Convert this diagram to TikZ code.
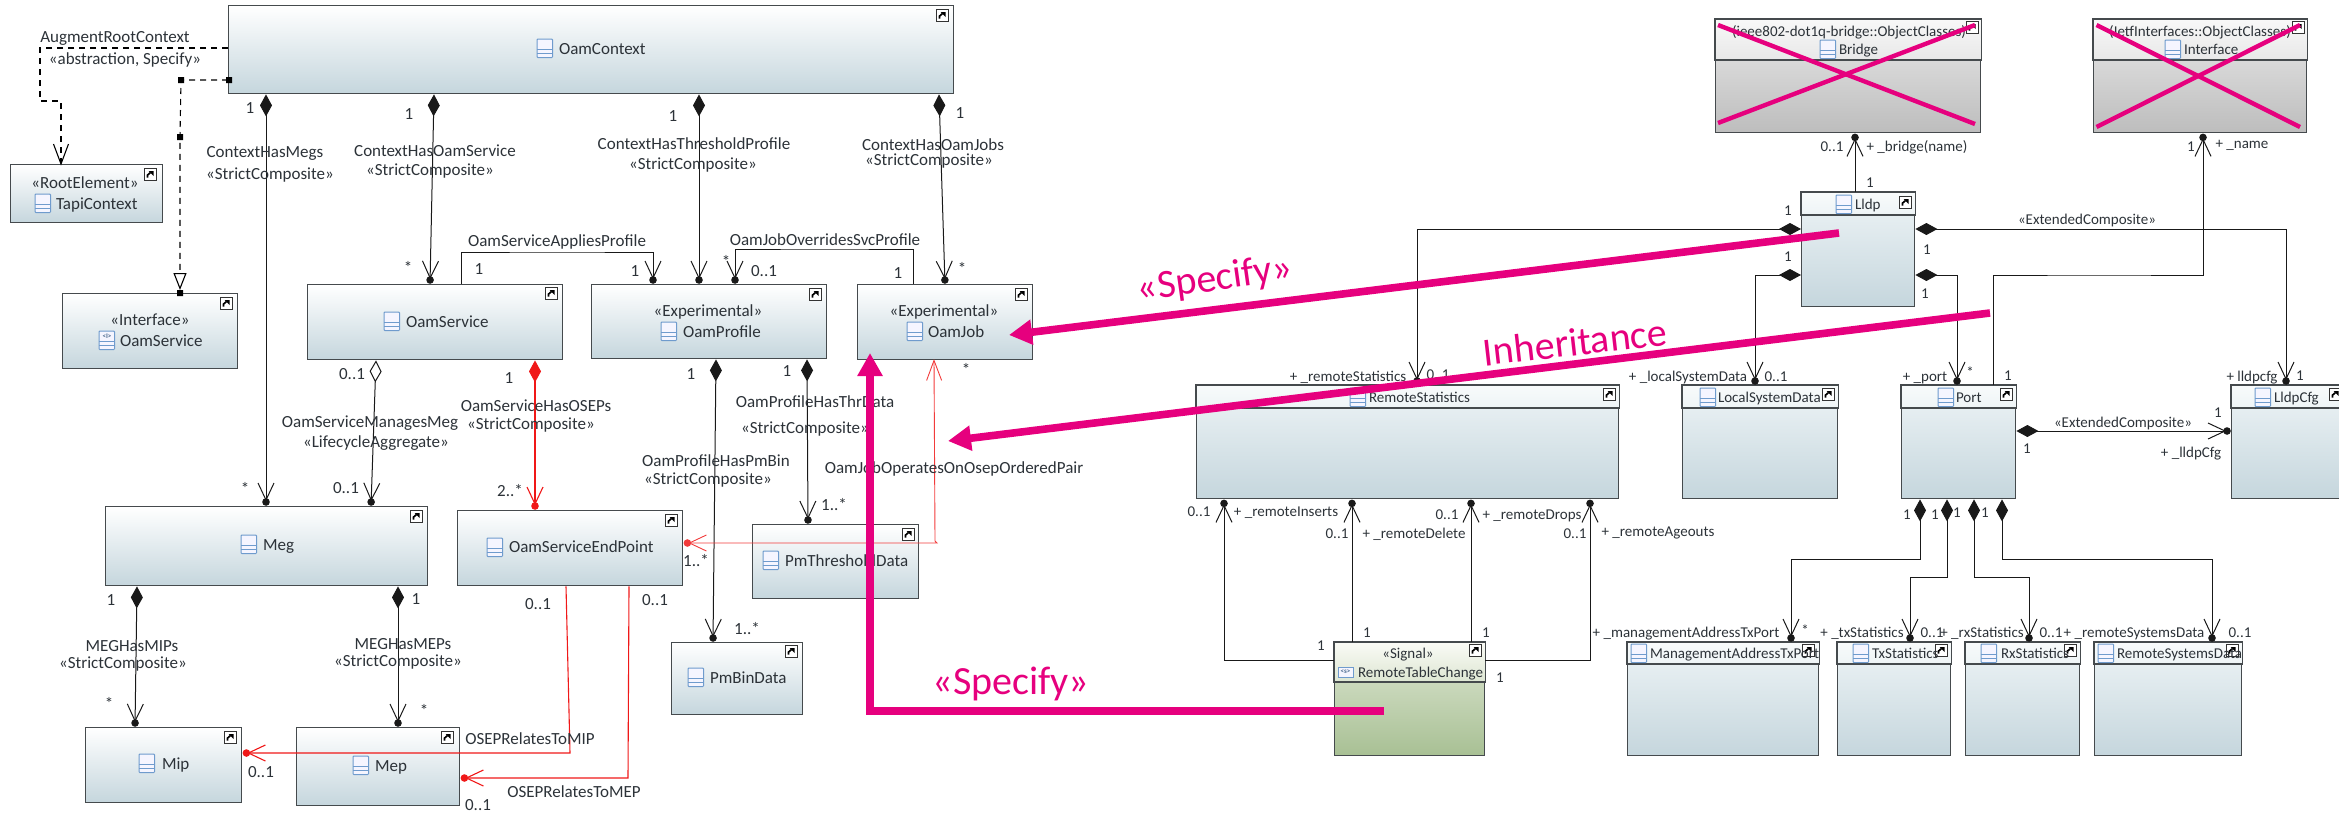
\documentclass[tikz,border=0pt]{standalone}
\usepackage{fontspec}
\setmainfont{Carlito}
\usetikzlibrary{arrows.meta}
\definecolor{edge}{HTML}{454A4D}
\definecolor{ink}{HTML}{2C3238}
\definecolor{pinkm}{HTML}{E6007E}
\definecolor{redl}{HTML}{F01818}
\definecolor{iconb}{HTML}{6F9BCD}
\definecolor{bluebot}{HTML}{C5D6DD}
\pgfdeclarearrow{
  name=umlV,
  setup code={\pgfarrowssettipend{0pt}\pgfarrowssetlineend{-4pt}\pgfarrowssetbackend{-23pt}\pgfarrowssetvisualbackend{-4pt}\pgfarrowshullpoint{0pt}{0pt}},
  drawing code={
    \pgfsetdash{}{0pt}
    \pgfpathcircle{\pgfpoint{-4pt}{0pt}}{3.8pt}\pgfusepathqfill
    \pgfpathmoveto{\pgfpoint{-23pt}{8pt}}\pgfpathlineto{\pgfpoint{-6pt}{0pt}}\pgfpathlineto{\pgfpoint{-23pt}{-8pt}}\pgfusepathqstroke
  }
}
\pgfdeclarearrow{
  name=umlO,
  setup code={\pgfarrowssettipend{0pt}\pgfarrowssetlineend{-1pt}\pgfarrowssetbackend{-20pt}\pgfarrowssetvisualbackend{-1pt}\pgfarrowshullpoint{0pt}{0pt}},
  drawing code={
    \pgfsetdash{}{0pt}
    \pgfpathmoveto{\pgfpoint{-20pt}{7.5pt}}\pgfpathlineto{\pgfpoint{0pt}{0pt}}\pgfpathlineto{\pgfpoint{-20pt}{-7.5pt}}\pgfusepathqstroke
  }
}
\newcommand\lblfont{\fontsize{17}{20}\selectfont}
\tikzset{
  boxbase/.style={rectangle,draw=edge,line width=1.4pt,inner sep=0pt,anchor=north west},
  assoc/.style={color=black!90,line width=1pt},
  redc/.style={color=redl,line width=1.1pt},
  thinred/.style={color=redl!85,line width=0.9pt},
  dashc/.style={color=black,line width=1.1pt,dash pattern=on 6pt off 5pt},
  comp/.style={assoc,{Diamond[length=22pt,width=12pt]}-umlV},
  compn/.style={comp},
  ref/.style={assoc,-umlV},
  pinkline/.style={draw=pinkm,line width=7.6pt,-{Triangle[length=23pt,width=24pt,color=pinkm]}},
  cross/.style={draw=pinkm,line width=4.4pt},
  txt/.style={text=ink,font=\lblfont,inner sep=0pt,outer sep=0pt},
  bigt/.style={text=pinkm,font=\fontsize{40}{44}\selectfont,inner sep=0pt,outer sep=0pt},
  icn/.style={draw=iconb,fill=blue!4,line width=1pt},
  tinyic/.style={text=iconb!70!black,font=\fontsize{7}{8}\selectfont\bfseries,inner sep=0pt}
}
\newcount\lblcnt
\newcommand\lbl[3]{\global\advance\lblcnt by 1 \node[txt,anchor=base] (t\the\lblcnt) at (#1,#2+5.5) {#3};}
\newcommand\nm[3]{\global\advance\lblcnt by 1 \node[txt,anchor=base west] (t\the\lblcnt) at (#1,#2+5.5) {#3};}
\newcommand\cico[2]{\draw[icn,rounded corners=0.8pt] (#1,#2) rectangle ++(15.5,18.5);
  \draw[iconb,line width=1pt] (#1,#2+10) -- ++(15.5,0) (#1,#2+14.2) -- ++(15.5,0);}
\newcommand\scut[2]{\draw[fill=white,draw=black!80,line width=1pt] (#1,#2) rectangle ++(12.5,12.5);
  \draw[black,line width=1.7pt] (#1+3.4,#2+9.6) -- ++(0,-2.4) -- ++(3,-2.6);
  \fill[black] (#1+4.6,#2+3) -- ++(5,0) -- ++(0,5) -- cycle;}
\newcommand\onebox[5]{\node[boxbase,top color=white,bottom color=bluebot,minimum width={(#4-#2)*1pt},minimum height={(#5-#3)*1pt}] (#1) at (#2,#3) {};}
\newcommand\twobox[9]{\node[boxbase,top color=#8,bottom color=#9,minimum width={(#4-#2)*1pt},minimum height={(#6-#3)*1pt}] (#1) at (#2,#3) {};
  \shade[top color=#7,bottom color=#8,draw=edge,line width=1.4pt] (#1.north west) rectangle (#1.east |- 0,#5);}
\begin{document}
\begin{tikzpicture}[x=1pt,y=-1pt]
\useasboundingbox (0,0) rectangle (2339,812);
\definecolor{bh}{HTML}{F8FBFB}\definecolor{bt}{HTML}{EEF4F6}
\definecolor{gh}{HTML}{F8F8F8}\definecolor{gt}{HTML}{E8E8E8}\definecolor{gb}{HTML}{BDBDBD}
\definecolor{lh}{HTML}{FAFBF6}\definecolor{lt}{HTML}{DDE6D2}\definecolor{lb}{HTML}{A8C094}
% ---- single boxes
\onebox{OamContext}{228}{5}{953}{93}
\onebox{TapiContext}{10}{164}{162}{222}
\onebox{IfOamService}{62}{293}{237}{368}
\onebox{OamService}{307}{284}{562}{359}
\onebox{OamProfile}{591}{284}{826}{358}
\onebox{OamJob}{857}{284}{1032}{359}
\onebox{Meg}{105}{506}{427}{585}
\onebox{OamServiceEndPoint}{457}{510}{682}{585}
\onebox{PmThresholdData}{752}{524}{918}{598}
\onebox{PmBinData}{671}{642}{802}{714}
\onebox{Mip}{85}{727}{241}{802}
\onebox{Mep}{296}{727}{459}{805}
% ---- compartment boxes
\twobox{Bridge}{1715}{19}{1980}{60}{132}{gh}{gt}{gb}
\twobox{Interface}{2093}{19}{2306}{60}{132}{gh}{gt}{gb}
\twobox{Lldp}{1801}{192}{1914}{215}{306}{bh}{bt}{bluebot}
\twobox{RemoteStatistics}{1196}{385}{1618}{408}{498}{bh}{bt}{bluebot}
\twobox{LocalSystemData}{1682}{385}{1837}{408}{498}{bh}{bt}{bluebot}
\twobox{Port}{1901}{385}{2015}{408}{498}{bh}{bt}{bluebot}
\twobox{LldpCfg}{2231}{385}{2370}{408}{498}{bh}{bt}{bluebot}
\twobox{RemoteTableChange}{1334}{642}{1484}{682}{755}{lh}{lt}{lb}
\twobox{ManagementAddressTxPort}{1627}{642}{1818}{664}{755}{bh}{bt}{bluebot}
\twobox{TxStatistics}{1837}{642}{1950}{664}{755}{bh}{bt}{bluebot}
\twobox{RxStatistics}{1965}{642}{2079}{664}{755}{bh}{bt}{bluebot}
\twobox{RemoteSystemsData}{2094}{642}{2241}{664}{755}{bh}{bt}{bluebot}
% ---- connectors left part
\draw[dashc,-umlO] (OamContext.west |- 0,48) -- (40,48) -- (40,101) -- (61,101) -- (TapiContext.north -| 61,0);
\draw[dashc,-{Triangle[open,length=17pt,width=13pt,color=black,fill=white]}] (OamContext.west |- 0,80) -- (181,80) -- (180,137) -- (180,290);
\fill (226,77) rectangle ++(6,6) (178,77) rectangle ++(6,6) (177,134) rectangle ++(6,6) (177,290) rectangle ++(6,6);
\draw[comp] (OamContext.south -| 266,0) -- (Meg.north -| 266,0);
\draw[comp] (OamContext.south -| 434,0) -- (OamService.north -| 430,0);
\draw[comp] (OamContext.south -| 699,0) -- (OamProfile.north -| 699,0);
\draw[comp] (OamContext.south -| 939,0) -- (OamJob.north -| 945,0);
\draw[ref] (OamService.north -| 461,0) |- (557,252) -| (OamProfile.north -| 653,0);
\draw[ref] (OamJob.north -| 913,0) |- (825,249) -| (OamProfile.north -| 735,0);
\draw[assoc,{Diamond[open,length=22pt,width=12pt,fill=white]}-umlV] (OamService.south -| 376,0) -- (Meg.north -| 371,0);
\draw[redc,{Diamond[length=22pt,width=12pt]}-umlV] (OamService.south -| 535,0) -- (OamServiceEndPoint.north -| 535,0);
\draw[comp] (OamProfile.south -| 716,0) -- (PmBinData.north -| 713,0);
\draw[comp] (OamProfile.south -| 807,0) -- (PmThresholdData.north -| 808,0);
\draw[thinred,umlV-umlO] (OamServiceEndPoint.east |- 0,543) -- (937,543) -- (935,541) -- (OamJob.south -| 934,0);
\draw[comp] (Meg.south -| 137,0) -- (Mip.north -| 135,0);
\draw[comp] (Meg.south -| 398,0) -- (Mep.north -| 398,0);
\draw[redc,-umlV] (OamServiceEndPoint.south -| 566,0) -- (570,753) -- (Mip.east |- 0,753);
\draw[redc,-umlV] (OamServiceEndPoint.south -| 629,0) -- (628,778) -- (Mep.east |- 0,778);
% ---- connectors right part
\draw[compn] (Lldp.west |- 0,229) -| (RemoteStatistics.north -| 1417,0);
\draw[compn] (Lldp.west |- 0,275) -| (LocalSystemData.north -| 1755,0);
\draw[compn] (Lldp.east |- 0,275) -| (Port.north -| 1957,0);
\draw[compn] (Lldp.east |- 0,229) -| (LldpCfg.north -| 2286,0);
\draw[ref] (Lldp.north -| 1855,0) -- (Bridge.south -| 1855,0);
\draw[ref] (Port.north -| 1993,0) |- (2100,275) -| (Interface.south -| 2203,0);
\draw[compn] (Port.east |- 0,431) -- (LldpCfg.west |- 0,431);
\draw[compn] (Port.south -| 1920,0) |- (1850,559) -| (ManagementAddressTxPort.north -| 1791,0);
\draw[compn] (Port.south -| 1947,0) |- (1930,577) -| (TxStatistics.north -| 1910,0);
\draw[compn] (Port.south -| 1974,0) |- (2000,577) -| (RxStatistics.north -| 2029,0);
\draw[compn] (Port.south -| 2002,0) |- (2100,559) -| (RemoteSystemsData.north -| 2212,0);
\draw[ref] (RemoteTableChange.west |- 0,660) -| (RemoteStatistics.south -| 1224,0);
\draw[ref] (RemoteTableChange.north -| 1352,0) -- (RemoteStatistics.south -| 1352,0);
\draw[ref] (RemoteTableChange.north -| 1471,0) -- (RemoteStatistics.south -| 1471,0);
\draw[ref] (RemoteTableChange.east |- 0,660) -| (RemoteStatistics.south -| 1590,0);
% ---- icons
\cico{537}{39}\scut{936}{9}
\cico{35}{194}\scut{144}{168}
\cico{99}{331}\node[tinyic] (ifI) at (107,336) {<I>};\scut{220}{297}
\cico{384}{312}\scut{545}{287}
\cico{661}{322}\scut{809}{288}
\cico{907}{322}\scut{1015}{288}
\cico{241}{535}\scut{410}{510}
\cico{487}{538}\scut{665}{514}
\cico{763}{551}\scut{902}{528}
\cico{688}{668}\scut{785}{645}
\cico{139}{754}\scut{224}{731}
\cico{353}{756}\scut{441}{731}
\cico{1820}{40}\scut{1966}{21}
\cico{2165}{40}\scut{2292}{21}
\cico{1836}{195}\scut{1899}{196}
\cico{1350}{388}\scut{1603}{388}
\cico{1700}{388}\scut{1822}{388}
\cico{1938}{388}\scut{2000}{388}
\cico{2255}{388}\scut{2329}{388}
\draw[icn] (1338,667) rectangle ++(15,10);\node[tinyic] (sigS) at (1345.5,672) {<s>};\scut{1469}{644}
\cico{1631}{644}\scut{1802}{644}
\cico{1853}{644}\scut{1935}{644}
\cico{1981}{644}\scut{2064}{644}
\cico{2098}{644}\scut{2226}{644}
% ---- class names
\nm{559}{49}{OamContext}
\lbl{85}{183}{«RootElement»}\nm{56}{204}{TapiContext}
\lbl{150}{320}{«Interface»}\nm{120}{341}{OamService}
\nm{406}{322}{OamService}
\lbl{708}{311}{«Experimental»}\nm{683}{332}{OamProfile}
\lbl{944}{311}{«Experimental»}\nm{928}{332}{OamJob}
\nm{263}{545}{Meg}
\nm{509}{547}{OamServiceEndPoint}
\nm{785}{561}{PmThresholdData}
\nm{710}{678}{PmBinData}
\nm{162}{764}{Mip}
\nm{375}{766}{Mep}
% ---- connector labels left
\lbl{115}{37}{AugmentRootContext}\lbl{125}{59}{«abstraction, Specify»}
\lbl{265}{152}{ContextHasMegs}\lbl{270}{174}{«StrictComposite»}\lbl{250}{108}{1}\lbl{245}{489}{*}
\lbl{435}{151}{ContextHasOamService}\lbl{430}{170}{«StrictComposite»}\lbl{409}{114}{1}\lbl{408}{268}{*}
\lbl{694}{144}{ContextHasThresholdProfile}\lbl{693}{164}{«StrictComposite»}\lbl{673}{116}{1}
\lbl{933}{145}{ContextHasOamJobs}\lbl{929}{160}{«StrictComposite»}\lbl{960}{113}{1}\lbl{962}{269}{*}
\lbl{557}{241}{OamServiceAppliesProfile}\lbl{479}{269}{1}\lbl{635}{271}{1}
\lbl{825}{240}{OamJobOverridesSvcProfile}\lbl{898}{273}{1}\lbl{764}{271}{0..1}\lbl{726}{262}{*}
\lbl{370}{422}{OamServiceManagesMeg}\lbl{376}{442}{«LifecycleAggregate»}\lbl{352}{374}{0..1}\lbl{346}{488}{0..1}
\lbl{536}{406}{OamServiceHasOSEPs}\lbl{531}{424}{«StrictComposite»}\lbl{509}{378}{1}\lbl{510}{491}{2..*}
\lbl{716}{461}{OamProfileHasPmBin}\lbl{708}{479}{«StrictComposite»}\lbl{691}{374}{1}\lbl{747}{629}{1..*}
\lbl{815}{402}{OamProfileHasThrData}\lbl{805}{428}{«StrictComposite»}\lbl{787}{371}{1}\lbl{834}{505}{1..*}
\lbl{954}{468}{OamJobOperatesOnOsepOrderedPair}\lbl{966}{370}{*}\lbl{696}{561}{1..*}
\lbl{132}{646}{MEGHasMIPs}\lbl{123}{663}{«StrictComposite»}\lbl{111}{600}{1}\lbl{109}{704}{*}
\lbl{403}{644}{MEGHasMEPs}\lbl{398}{661}{«StrictComposite»}\lbl{416}{599}{1}\lbl{424}{711}{*}
\lbl{530}{739}{OSEPRelatesToMIP}\lbl{538}{604}{0..1}\lbl{261}{772}{0..1}
\lbl{574}{792}{OSEPRelatesToMEP}\lbl{655}{600}{0..1}\lbl{478}{805}{0..1}
% ---- right part: smaller text
\renewcommand\lblfont{\fontsize{15}{18}\selectfont}
\lbl{1849}{31}{(ieee802-dot1q-bridge::ObjectClasses)}\nm{1839}{49}{Bridge}
\lbl{2200}{31}{(IetfInterfaces::ObjectClasses)}\nm{2184}{49}{Interface}
\nm{1855}{204}{Lldp}
\nm{1369}{397}{RemoteStatistics}
\nm{1718}{397}{LocalSystemData}
\nm{1956}{397}{Port}
\nm{2274}{397}{LldpCfg}
\lbl{1408}{653}{«Signal»}\nm{1358}{672}{RemoteTableChange}
\nm{1650}{653}{ManagementAddressTxPort}
\nm{1872}{653}{TxStatistics}
\nm{2001}{653}{RxStatistics}
\nm{2117}{653}{RemoteSystemsData}
\lbl{1788}{210}{1}\lbl{1348}{376}{+ \_remoteStatistics}\lbl{1438}{374}{0..1}
\lbl{1788}{256}{1}\lbl{1688}{376}{+ \_localSystemData}\lbl{1776}{376}{0..1}
\lbl{1925}{293}{1}\lbl{1925}{376}{+ \_port}\lbl{1970}{372}{*}
\lbl{2087}{219}{«ExtendedComposite»}\lbl{1927}{249}{1}\lbl{2252}{376}{+ lldpcfg}\lbl{2300}{375}{1}
\lbl{1870}{182}{1}\lbl{1832}{146}{0..1}\lbl{1917}{146}{+ \_bridge(name)}
\lbl{2008}{375}{1}\lbl{2191}{146}{1}\lbl{2242}{143}{+ \_name}
\lbl{2123}{422}{«ExtendedComposite»}\lbl{2027}{448}{1}\lbl{2218}{412}{1}\lbl{2191}{452}{+ \_lldpCfg}
\lbl{1907}{514}{1}\lbl{1686}{632}{+ \_managementAddressTxPort}\lbl{1805}{630}{*}
\lbl{1935}{514}{1}\lbl{1862}{632}{+ \_txStatistics}\lbl{1932}{632}{0..1}
\lbl{1957}{512}{1}\lbl{1982}{632}{+ \_rxStatistics}\lbl{2051}{632}{0..1}
\lbl{1985}{512}{1}\lbl{2134}{632}{+ \_remoteSystemsData}\lbl{2240}{632}{0..1}
\lbl{1321}{645}{1}\lbl{1199}{511}{0..1}\lbl{1286}{511}{+ \_remoteInserts}
\lbl{1367}{632}{1}\lbl{1337}{533}{0..1}\lbl{1414}{533}{+ \_remoteDelete}
\lbl{1486}{632}{1}\lbl{1447}{514}{0..1}\lbl{1532}{514}{+ \_remoteDrops}
\lbl{1500}{677}{1}\lbl{1575}{533}{0..1}\lbl{1658}{531}{+ \_remoteAgeouts}
% ---- pink overlays
\draw[cross] (1718,25) -- (1975,124);
\draw[cross] (1718,123) -- (1975,25);
\draw[cross] (2096.5,25) -- (2300,127);
\draw[cross] (2096.5,127) -- (2300,25);
\coordinate (spA) at (1839,233);\coordinate (spB) at (1009,335);
\coordinate (inA) at (1990,313);\coordinate (inB) at (948,441);
\coordinate (sgA) at (1384,711);\coordinate (sgC) at (870,711);\coordinate (sgB) at (870,353);
\draw[pinkline] (spA) -- (spB);
\draw[pinkline] (inA) -- (inB);
\draw[pinkline] (sgA) -- (sgC) -- (sgB);
\node[bigt,rotate=8] (specA) at (1215,280) {«Specify»};
\node[bigt,rotate=6.5] (inh) at (1575,342) {Inheritance};
\node[bigt] (specB) at (1011,684) {«Specify»};
\end{tikzpicture}
\end{document}
